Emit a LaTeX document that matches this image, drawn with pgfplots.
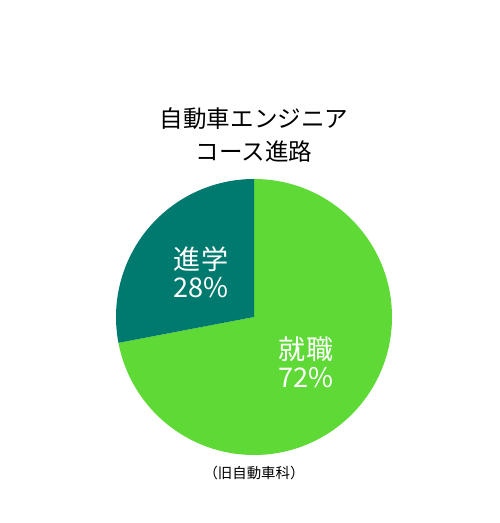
\documentclass[border=0pt]{standalone}
\usepackage{pgfplots}
\pgfplotsset{compat=1.18}
\usepackage{fontspec}
\setmainfont{Noto Sans CJK JP}
\definecolor{shushoku}{HTML}{5ED936}
\definecolor{shingaku}{HTML}{00796E}
% shares in percent
\def\valA{72}% 就職
\def\valB{28}% 進学
\begin{document}
\begin{tikzpicture}
\path[use as bounding box] (0,0) rectangle (10cm,10.46cm);
\begin{axis}[
    at={(0,0)}, anchor=south west,
    scale only axis, width=10cm, height=10.46cm,
    xmin=0, xmax=500, ymin=0, ymax=523,
    hide axis, clip=false
]
\pgfmathsetmacro{\endA}{90-3.6*\valA}
% 就職 slice, clockwise from top
\fill[shushoku] (axis cs:254,206) -- ++(90:2.76cm)
    arc[start angle=90, end angle=\endA, radius=2.76cm] -- cycle;
% 進学 slice
\fill[shingaku] (axis cs:254,206) -- ++(90:2.76cm)
    arc[start angle=90, end angle=\endA+360, radius=2.76cm] -- cycle;
\node[font=\fontsize{13.4}{16}\selectfont, align=center] at (axis cs:254,388)
    {自動車エンジニア\\[3pt]コース進路};
\node[white, font=\fontsize{15.4}{16}\selectfont, align=center] at (axis cs:201,251)
    {進学\\28\%};
\node[white, font=\fontsize{15.4}{16}\selectfont, align=center] at (axis cs:306,161)
    {就職\\72\%};
\node[font=\fontsize{8.2}{10}\selectfont] at (axis cs:254,50) {（旧自動車科）};
\end{axis}
\end{tikzpicture}
\end{document}
